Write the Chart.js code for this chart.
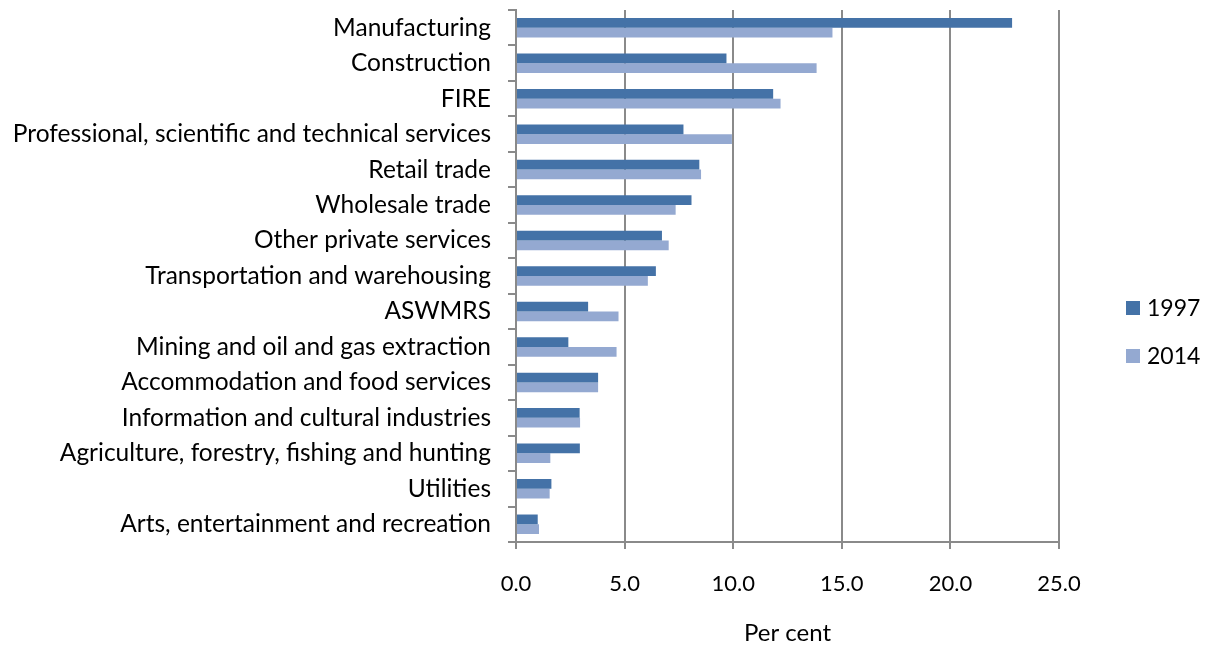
<!DOCTYPE html>
<html>
<head>
<meta charset="utf-8">
<script src="https://cdn.jsdelivr.net/npm/chart.js@4.4.1/dist/chart.umd.min.js"></script>
<style>
body{margin:0;background:#fff;}
#wrap{width:1206px;height:650px;}
</style>
</head>
<body>
<div id="wrap"><canvas id="chart" width="1206" height="650"></canvas></div>
<script>
/* Data */

const industries=[
"Manufacturing",
"Construction",
"FIRE",
"Professional, scientific and technical services",
"Retail trade",
"Wholesale trade",
"Other private services",
"Transportation and warehousing",
"ASWMRS",
"Mining and oil and gas extraction",
"Accommodation and food services",
"Information and cultural industries",
"Agriculture, forestry, fishing and hunting",
"Utilities",
"Arts, entertainment and recreation"
];

const share1997=[22.84,9.69,11.84,7.71,8.44,8.08,6.72,6.44,3.32,2.41,3.78,2.93,2.94,1.63,1.00];
const share2014=[14.57,13.84,12.18,9.94,8.52,7.35,7.03,6.07,4.72,4.63,3.78,2.95,1.58,1.55,1.06];

const xTicks=[0,5,10,15,20,25];

const FONT="Lato, 'Open Sans', sans-serif";
const GRID="#8a8a8a";
const INK="#000";

/* Legend on the right, drawn by hand */

const sideLegend={
id:"sideLegend",
afterDraw(chart){
const ctx=chart.ctx;
ctx.save();
ctx.font="23px "+FONT;
ctx.textBaseline="middle";
chart.data.datasets.forEach((ds,i)=>{
const y=308+i*48;
ctx.fillStyle=ds.backgroundColor;
ctx.fillRect(1126,y-7,14,14);
ctx.fillStyle=INK;
ctx.fillText(ds.label,1147,y+1);
});
ctx.restore();
}
};

new Chart(document.getElementById("chart"),{

type:"bar",

data:{
labels:industries,
datasets:[{
label:"1997",
data:share1997,
backgroundColor:"#4472a7",
categoryPercentage:0.55,
barPercentage:1.0
},{
label:"2014",
data:share2014,
backgroundColor:"#94a9d1",
categoryPercentage:0.55,
barPercentage:1.0
}]
},

options:{

indexAxis:"y",
responsive:false,
animation:false,

layout:{
padding:{top:10,right:147,left:0,bottom:0}
},

plugins:{
legend:{display:false},
tooltip:{enabled:false}
},

scales:{

x:{
position:"bottom",
min:0,
max:25,
afterBuildTicks(scale){
scale.ticks=xTicks.map(v=>({value:v}));
},
afterFit(scale){
scale.height=108;
scale.paddingLeft=0;
scale.paddingRight=0;
},
ticks:{
color:INK,
font:{family:FONT,size:22},
padding:22,
callback:v=>Number(v).toFixed(1)
},
grid:{
color:GRID,
lineWidth:2,
tickLength:7
},
border:{color:GRID,width:2},
title:{
display:true,
text:"Per cent",
color:INK,
font:{family:FONT,size:24},
padding:{top:4,bottom:2}
}
},

y:{
afterFit(scale){
scale.width=516;
scale.paddingTop=0;
scale.paddingBottom=0;
},
ticks:{
color:INK,
font:{family:FONT,size:24.5},
padding:17
},
grid:{
color:GRID,
lineWidth:2,
drawOnChartArea:false,
tickLength:8,
offset:true
},
border:{color:GRID,width:2}
}

}

},

plugins:[sideLegend]

});
</script>
</body>
</html>
